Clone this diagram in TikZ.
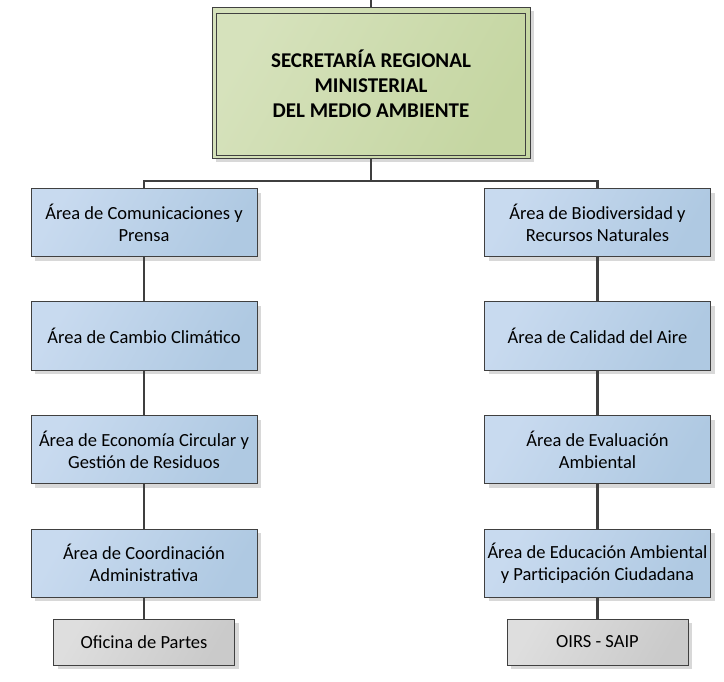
\documentclass[tikz,border=0pt]{standalone}
\usepackage{fontspec}
\setmainfont{Carlito}
\usetikzlibrary{shadows}
\definecolor{lineC}{HTML}{3F3F3F}
\definecolor{blueA}{HTML}{C8DAEF}
\definecolor{blueB}{HTML}{AFC9E2}
\definecolor{greenA}{HTML}{D6E2BC}
\definecolor{greenB}{HTML}{C5D6A2}
\definecolor{grayA}{HTML}{DEDEDE}
\definecolor{grayB}{HTML}{CACACA}
\definecolor{borderC}{HTML}{404040}
\tikzset{
  myshadow/.style={drop shadow={shadow xshift=4pt,shadow yshift=-4pt,fill=black!25,opacity=0.6}},
  areabox/.style={draw=borderC,line width=1pt,minimum width=226pt,minimum height=68pt,
    inner sep=0pt,align=center,font=\fontsize{18.5}{22}\selectfont,
    left color=blueA,right color=blueB,shading angle=60,myshadow},
  officebox/.style={draw=borderC,line width=1pt,minimum width=181pt,minimum height=46pt,
    inner sep=0pt,align=center,font=\fontsize{18.5}{22}\selectfont,
    left color=grayA,right color=grayB,shading angle=60,myshadow},
  outerbox/.style={draw=borderC,line width=1pt,minimum width=318pt,minimum height=151pt,
    left color=greenA,right color=greenB,shading angle=60,myshadow},
  innerbox/.style={draw=borderC,line width=0.9pt,minimum width=309pt,minimum height=142pt,
    inner sep=0pt,align=center,font=\fontsize{21}{25}\selectfont\bfseries},
  conn/.style={draw=lineC,line width=2.4pt}
}
\begin{document}
\begin{tikzpicture}[x=1pt,y=-1pt]
\useasboundingbox (0,0) rectangle (724,682);
\fill[white] (0,0) rectangle (724,682);
% top
\node[outerbox] (topout) at (371,83) {};
\node[innerbox] (top) at (371,84)
  {SECRETARÍA REGIONAL\\MINISTERIAL\\DEL MEDIO AMBIENTE};
\coordinate (topin) at (371,0);
\coordinate (bar) at (371,181);
\coordinate (barL) at (144,181);
\coordinate (barR) at (597.5,181);
% left column
\node[areabox] (l1) at (144,223) {Área de Comunicaciones y\\Prensa};
\node[areabox] (l2) at (144,336) {Área de Cambio Climático};
\node[areabox] (l3) at (144,449.5) {Área de Economía Circular y\\Gestión de Residuos};
\node[areabox] (l4) at (144,563) {Área de Coordinación\\Administrativa};
\node[officebox] (l5) at (144,642) {Oficina de Partes};
% right column
\node[areabox] (r1) at (597.5,223) {Área de Biodiversidad y\\Recursos Naturales};
\node[areabox] (r2) at (597.5,336) {Área de Calidad del Aire};
\node[areabox] (r3) at (597.5,449.5) {Área de Evaluación\\Ambiental};
\node[areabox] (r4) at (597.5,563) {Área de Educación Ambiental\\y Participación Ciudadana};
\node[officebox] (r5) at (597.5,642) {OIRS - SAIP};
% connectors
\draw[conn] (topin) -- (topout.north);
\draw[conn] (topout.south) -- (bar);
\draw[conn] (l1.north) -- (barL) -- (barR) -- (r1.north);
\draw[conn] (l1.south) -- (l2.north);
\draw[conn] (l2.south) -- (l3.north);
\draw[conn] (l3.south) -- (l4.north);
\draw[conn] (l4.south) -- (l5.north);
\draw[conn] (r1.south) -- (r2.north);
\draw[conn] (r2.south) -- (r3.north);
\draw[conn] (r3.south) -- (r4.north);
\draw[conn] (r4.south) -- (r5.north);
\end{tikzpicture}
\end{document}
